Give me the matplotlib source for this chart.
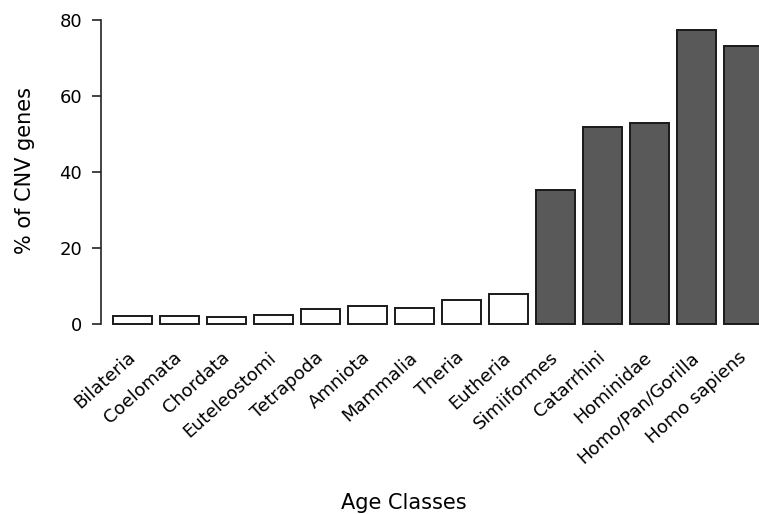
import numpy as np
import matplotlib
matplotlib.use('Agg')
import matplotlib.pyplot as plt

classes = ['Bilateria', 'Coelomata', 'Chordata', 'Euteleostomi', 'Tetrapoda',
           'Amniota', 'Mammalia', 'Theria', 'Eutheria', 'Simiiformes',
           'Catarrhini', 'Hominidae', 'Homo/Pan/Gorilla', 'Homo sapiens']
pct_cnv = [2.2, 2.3, 2.0, 2.4, 3.9, 4.8, 4.3, 6.3, 7.9, 35.4, 51.7, 52.8, 77.2, 73.2]
# primate-specific classes are shaded
primate = [False] * 9 + [True] * 5

W, H = 759, 514
fig = plt.figure(figsize=(W / 100, H / 100), dpi=100)
ax = fig.add_axes([101 / W, (H - 335.7) / H, (W - 101) / W, (335.7 - 8.3) / H])

# barplot-style layout: width 1, space 0.2
x = 0.7 + 1.2 * np.arange(len(classes))
colors = ['#595959' if p else 'white' for p in primate]
ax.bar(x, pct_cnv, width=1.0, color=colors, edgecolor='#1a1a1a', linewidth=1.4)

ax.set_xlim(-0.106, 0.2 + (W - 113) / 39.17)
ax.set_ylim(-3, 83)

for s in ['top', 'right', 'bottom']:
    ax.spines[s].set_visible(False)
ax.spines['left'].set_bounds(0, 80)
ax.spines['left'].set_linewidth(1.2)
ax.spines['left'].set_color('#222222')

ax.set_yticks([0, 20, 40, 60, 80])
ax.tick_params(axis='y', length=6.5, width=1.2, color='#222222', pad=7, labelsize=13)
ax.set_xticks(x)
ax.set_xticklabels(classes, rotation=42, ha='right', va='center',
                   rotation_mode='anchor', fontsize=13)
ax.tick_params(axis='x', length=0, pad=14)

fig.text(25 / W, 1 - 171 / H, '% of CNV genes', rotation=90, ha='center', va='center', fontsize=15)
fig.text(404 / W, 1 - 503 / H, 'Age Classes', ha='center', va='center', fontsize=15)

fig.savefig('out.png', dpi=100)
